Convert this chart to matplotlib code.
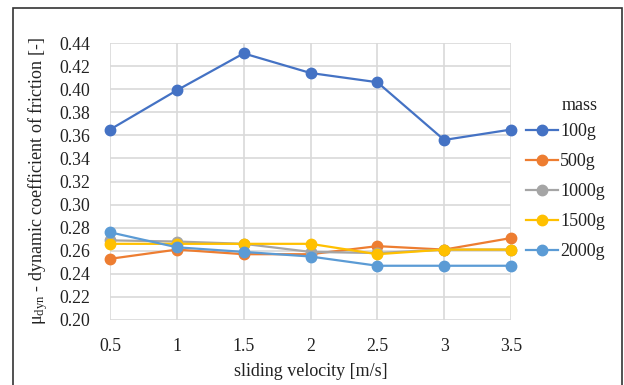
import matplotlib
matplotlib.use("Agg")
import matplotlib.pyplot as plt
from matplotlib.patches import Rectangle

plt.rcParams['font.family'] = ['Liberation Serif', 'DejaVu Serif']
plt.rcParams['mathtext.fontset'] = 'custom'
plt.rcParams['mathtext.rm'] = 'Liberation Serif'
plt.rcParams['mathtext.it'] = 'Liberation Serif:italic'

velocity = [0.5, 1, 1.5, 2, 2.5, 3, 3.5]
mass_100g = [0.365, 0.399, 0.431, 0.414, 0.406, 0.356, 0.365]
mass_500g = [0.253, 0.261, 0.257, 0.257, 0.264, 0.261, 0.271]
mass_1000g = [0.269, 0.268, 0.266, 0.259, 0.258, 0.261, 0.261]
mass_1500g = [0.266, 0.266, 0.266, 0.266, 0.257, 0.261, 0.261]
mass_2000g = [0.276, 0.263, 0.259, 0.255, 0.247, 0.247, 0.247]
labels = ['100g', '500g', '1000g', '1500g', '2000g']
colors = ['#4472C4', '#ED7D31', '#A5A5A5', '#FFC000', '#5B9BD5']
yticks = [0.20, 0.22, 0.24, 0.26, 0.28, 0.30, 0.32, 0.34, 0.36, 0.38, 0.40, 0.42, 0.44]
xticks = [0.5, 1, 1.5, 2, 2.5, 3, 3.5]
xticklabels = ['0.5', '1', '1.5', '2', '2.5', '3', '3.5']

fig = plt.figure(figsize=(6.24, 3.85), dpi=100)
ax = fig.add_axes([110/624, 65/385, 401/624, 277/385])

series = [mass_100g, mass_500g, mass_1000g, mass_1500g, mass_2000g]
for vals, lab, c in zip(series, labels, colors):
    ax.plot(velocity, vals, color=c, lw=1.6, marker='o', markersize=7.5,
            label=lab, clip_on=False, zorder=3)

ax.set_xlim(0.5, 3.5)
ax.set_ylim(0.20, 0.44)
ax.set_xticks(xticks)
ax.set_xticklabels(xticklabels)
ax.set_yticks(yticks)
ax.set_yticklabels([f'{v:.2f}' for v in yticks])
ax.grid(True, color='#D9D9D9', lw=1.2)
ax.set_axisbelow(True)
for s in ax.spines.values():
    s.set_visible(False)
ax.tick_params(length=0, labelsize=12.8, colors='#222222')
ax.tick_params(axis='y', pad=14)
ax.tick_params(axis='x', pad=13)

ax.set_xlabel('sliding velocity [m/s]', fontsize=13, labelpad=6, color='#222222')
ax.set_ylabel(r'$\mathrm{\mu_{dyn}}$ - dynamic coefficient of friction [-]', fontsize=13,
              labelpad=7, color='#222222')

leg = ax.legend(loc='upper left', bbox_to_anchor=(526/624, 1 - 123/385),
                bbox_transform=fig.transFigure, frameon=False, fontsize=13,
                handlelength=1.75, handletextpad=0.15,
                labelspacing=0.72, borderaxespad=0, borderpad=0)
for t in leg.get_texts():
    t.set_color('#222222')
fig.text(580/624, 1 - 105/385, 'mass', ha='center', va='center', fontsize=13, color='#222222')

fig.add_artist(Rectangle((13/624, -0.05), (622-13)/624, 1 - 8/385 + 0.05,
                         transform=fig.transFigure, fill=False, edgecolor='#333333', lw=1.2))

fig.savefig('out.png', dpi=100)
